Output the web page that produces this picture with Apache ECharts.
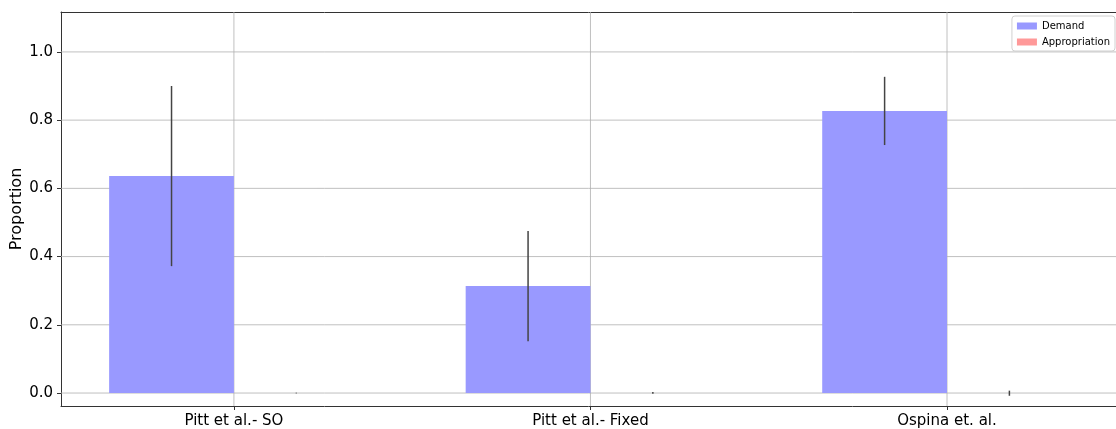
<!DOCTYPE html>
<html><head><meta charset="utf-8">
<script src="https://cdn.jsdelivr.net/npm/echarts@6/dist/echarts.min.js"></script>
<style>html,body{margin:0;padding:0;background:#fff}#c{width:1116px;height:429px}</style>
</head><body><div id="c"></div>
<script>
const categories = ["Pitt et al.- SO", "Pitt et al.- Fixed", "Ospina et. al."];
const demand = [0.636, 0.314, 0.827];
const demandLow = [0.372, 0.152, 0.727];
const demandHigh = [0.900, 0.475, 0.927];
const appropriation = [0.0, 0.0, 0.0];
const appropriationLow = [-0.001, -0.002, -0.008];
const appropriationHigh = [0.001, 0.003, 0.007];
const yTicks = [0.0, 0.2, 0.4, 0.6, 0.8, 1.0];

const W = 0.35;
const XMIN = -0.485, XMAX = 2.474, YMIN = -0.038, YMAX = 1.117;
const font = "DejaVu Sans";
const chart = echarts.init(document.getElementById('c'));

function barSeries(name, vals, offset, color) {
  return {
    name, type: 'custom', data: vals.map((v, i) => [i, v]),
    itemStyle: {color},
    renderItem: (params, api) => {
      const x = api.value(0), y = api.value(1);
      const p0 = api.coord([x + offset - W / 2, y]);
      const p1 = api.coord([x + offset + W / 2, 0]);
      return {type: 'rect', shape: {x: p0[0], y: Math.min(p0[1], p1[1]), width: p1[0] - p0[0], height: Math.abs(p1[1] - p0[1])},
        style: {fill: color}};
    }, z: 2
  };
}
function errSeries(lo, hi, offset) {
  return {
    type: 'custom', data: lo.map((v, i) => [i, v, hi[i]]), silent: true,
    renderItem: (params, api) => {
      const x = api.value(0);
      const a = api.coord([x + offset, api.value(1)]);
      const b = api.coord([x + offset, api.value(2)]);
      return {type: 'line', shape: {x1: a[0], y1: a[1], x2: b[0], y2: b[1]},
        style: {stroke: '#444', lineWidth: 1.5}};
    }, z: 3
  };
}
const spine = {show: true, onZero: false, lineStyle: {color: '#333', width: 1}};

chart.setOption({
  animation: false,
  grid: {left: 61, right: 0, top: 12, bottom: 23, show: false, containLabel: false, outerBoundsMode: 'none'},
  legend: {
    right: 1, top: 16, orient: 'vertical', itemWidth: 20, itemHeight: 7, itemGap: 6,
    backgroundColor: '#fff', borderColor: '#d0d0d0', borderWidth: 1, borderRadius: 3, padding: [5, 5, 4, 5],
    textStyle: {fontFamily: font, fontSize: 10, color: '#000'},
    data: [{name: 'Demand', icon: 'rect'}, {name: 'Appropriation', icon: 'rect'}]
  },
  xAxis: [{
    type: 'value', min: XMIN, max: XMAX,
    axisLine: spine,
    axisTick: {show: true, length: 4, lineStyle: {color: '#333'}, customValues: [0, 1, 2]},
    axisLabel: {customValues: [0, 1, 2], formatter: v => categories[Math.round(v)], fontFamily: font, fontSize: 15, color: '#000', margin: 8},
    splitLine: {show: false}
  }, {
    type: 'value', position: 'top', min: XMIN, max: XMAX,
    axisLine: spine, axisTick: {show: false}, axisLabel: {show: false}, splitLine: {show: false}
  }],
  yAxis: {
    type: 'value', min: YMIN, max: YMAX,
    name: 'Proportion', nameLocation: 'middle', nameGap: 36, nameRotate: 90, nameMoveOverlap: false,
    nameTextStyle: {fontFamily: font, fontSize: 16, color: '#000'},
    axisLine: spine,
    axisTick: {show: true, length: 4, lineStyle: {color: '#333'}, customValues: yTicks},
    axisLabel: {customValues: yTicks, formatter: v => v.toFixed(1), fontFamily: font, fontSize: 15, color: '#000', margin: 8},
    splitLine: {show: false}
  },
  series: [
    {type: 'custom', data: categories.map((c, i) => [i]), silent: true, z: 1,
      renderItem: (params, api) => {
        const a = api.coord([api.value(0), YMIN]);
        const b = api.coord([api.value(0), YMAX]);
        return {type: 'line', shape: {x1: a[0], y1: a[1], x2: b[0], y2: b[1]}, style: {stroke: '#b0b0b0', lineWidth: 0.8}};
      }},
    {type: 'custom', data: yTicks.map(v => [0, v]), silent: true, z: 1,
      renderItem: (params, api) => {
        const a = api.coord([XMIN, api.value(1)]);
        const b = api.coord([XMAX, api.value(1)]);
        return {type: 'line', shape: {x1: a[0], y1: a[1], x2: b[0], y2: b[1]}, style: {stroke: '#b0b0b0', lineWidth: 0.8}};
      }},
    barSeries('Demand', demand, -0.175, '#9999ff'),
    barSeries('Appropriation', appropriation, 0.175, '#ff9999'),
    errSeries(demandLow, demandHigh, -0.175),
    errSeries(appropriationLow, appropriationHigh, 0.175)
  ]
});
</script></body></html>
